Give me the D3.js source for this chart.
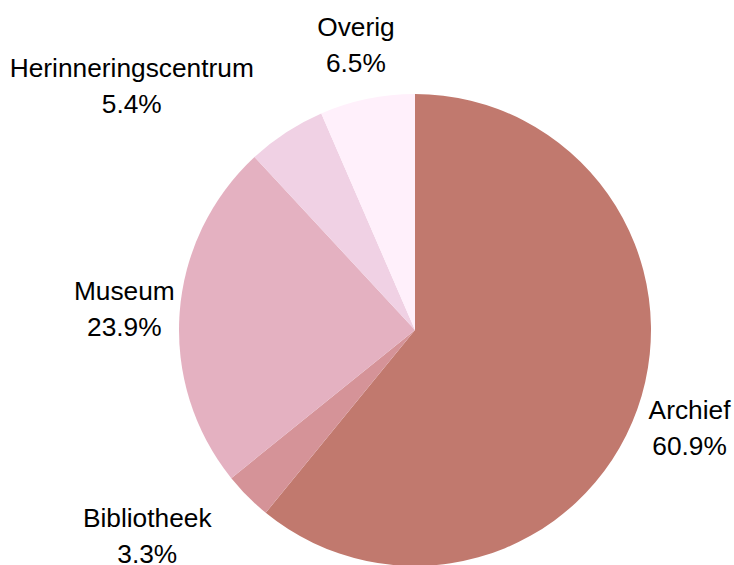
<!DOCTYPE html>
<html>
<head>
<meta charset="utf-8">
<script src="https://cdn.jsdelivr.net/npm/d3@7"></script>
<style>
  html, body { margin: 0; padding: 0; background: #fff; }
  svg { display: block; }
  text { font-family: "Liberation Sans", Arial, sans-serif; fill: #000; }
</style>
</head>
<body>
<div id="chart"></div>
<script>
// Data
const categories = ['Archief', 'Bibliotheek', 'Museum', 'Herinneringscentrum', 'Overig'];
const shares = [60.9, 3.3, 23.9, 5.4, 6.5];
const colors = ['#c1796e', '#d59398', '#e4b1c1', '#f0d1e4', '#fff0fb'];

const W = 734, H = 565;
const cx = 415, cy = 330, R = 236;
const FONT = 26.3, LINE = 36;

const svg = d3.select('#chart').append('svg')
  .attr('width', W)
  .attr('height', H);

const data = categories.map((c, i) => ({ name: c, value: shares[i], color: colors[i] }));

// clockwise from 12 o'clock, keep input order
const pie = d3.pie().value(d => d.value).sort(null);
const arc = d3.arc().innerRadius(0).outerRadius(R);
const arcs = pie(data);

const g = svg.append('g').attr('transform', `translate(${cx},${cy})`);

g.selectAll('path.slice')
  .data(arcs)
  .join('path')
  .attr('class', 'slice')
  .attr('d', arc)
  .attr('fill', d => d.data.color);

// Labels: two lines, name + percent
const labels = g.selectAll('g.label')
  .data(arcs)
  .join('g')
  .attr('class', 'label');

labels.append('text')
  .attr('text-anchor', 'middle')
  .attr('font-size', FONT)
  .selectAll('tspan')
  .data(d => [d.data.name, d3.format('.1f')(d.data.value) + '%'])
  .join('tspan')
  .attr('x', 0)
  .attr('y', (t, i) => i * LINE)
  .text(t => t);

// place label centre on mid angle, then push sideways if it overlaps the disc
const labelR = R * 1.235;
const capH = FONT * 0.716;
labels.each(function (d) {
  const sel = d3.select(this);
  const w = d3.max(sel.selectAll('tspan').nodes(), n => n.getComputedTextLength());
  const h = capH + LINE;
  const mid = (d.startAngle + d.endAngle) / 2;
  let x = labelR * Math.sin(mid);
  const y = -labelR * Math.cos(mid);

  const nearest = (px) => {
    const nx = Math.max(px - w / 2, Math.min(0, px + w / 2));
    const ny = Math.max(y - h / 2, Math.min(0, y + h / 2));
    return Math.hypot(nx, ny);
  };

  if (nearest(x) < R) {
    const dir = Math.sign(x) || 1;
    while (nearest(x) < R + 34) x += dir;
  }

  // first baseline so the block of caps is centred on y
  const base = y - h / 2 + capH;
  sel.attr('transform', `translate(${x},${base})`);
});
</script>
</body>
</html>
